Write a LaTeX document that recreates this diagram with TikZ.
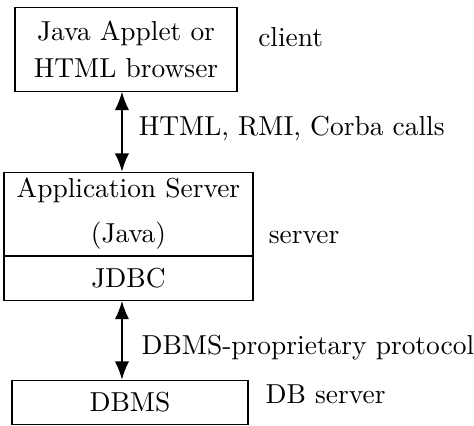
\documentclass[tikz,border=0pt]{standalone}
\usetikzlibrary{arrows.meta,positioning}
\begin{document}
\begin{tikzpicture}[font=\fontsize{9.6}{13}\selectfont,
        box/.style={draw, line width=0.4pt, inner sep=0pt, align=center},
        lbl/.style={anchor=west, inner sep=0pt},
        link/.style={<->, >={Latex[length=6.4pt,width=5pt]}, line width=0.5pt}]
        \useasboundingbox (0,0) rectangle (5.83,5.23);
        \node[box, minimum width=2.73cm, minimum height=1.033cm] (client) at (1.55,4.625) {Java Applet or\\HTML browser};
        \node[box, minimum width=3.063cm, minimum height=1.021cm] (appsrv) at (1.58,2.601) {Application Server\\[2.5pt](Java)};
        \node[box, minimum width=3.063cm, minimum height=0.541cm, below=0pt of appsrv] (jdbc) {JDBC};
        \node[box, minimum width=2.903cm, minimum height=0.541cm] (dbms) at (1.599,0.283) {DBMS};
        \node[lbl] (clientlbl) at (3.17,4.772) {client};
        \node[lbl] (calls) at (1.70,3.653) {HTML, RMI, Corba calls};
        \node[lbl] (srvlbl) at (3.30,2.312) {server};
        \node[lbl] (proto) at (1.734,0.959) {DBMS-proprietary protocol};
        \node[lbl] (dblbl) at (3.26,0.381) {DB server};
        \coordinate (ax) at (1.5,0);
        \draw[link] (client.south -| ax) -- (appsrv.north -| ax);
        \draw[link] (jdbc.south -| ax) -- (dbms.north -| ax);
        \end{tikzpicture}
\end{document}
